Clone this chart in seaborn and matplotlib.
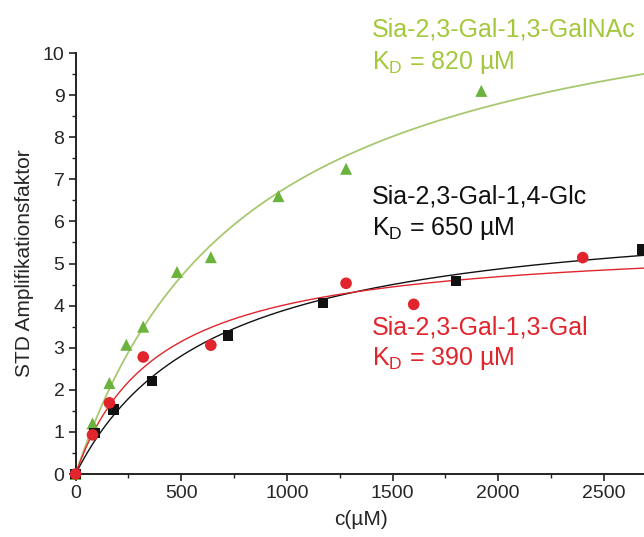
import numpy as np
import pandas as pd
import matplotlib
matplotlib.use("Agg")
import matplotlib.pyplot as plt
from matplotlib.ticker import MultipleLocator
import seaborn as sns

sns.set_theme(style="ticks")
plt.rcParams['font.family'] = ['Liberation Sans', 'DejaVu Sans']

# Measured points (c in uM, STD amplification factor)
glc_c = [0, 90, 180, 360, 720, 1170, 1800, 2680]
glc_y = [0, 0.98, 1.53, 2.21, 3.29, 4.06, 4.59, 5.33]

gal_c = [0, 80, 160, 320, 640, 1280, 1600, 2400]
gal_y = [0, 0.93, 1.69, 2.78, 3.06, 4.53, 4.03, 5.14]

galnac_c = [0, 80, 160, 240, 320, 480, 640, 960, 1280, 1920]
galnac_y = [0, 1.2, 2.16, 3.07, 3.5, 4.8, 5.15, 6.6, 7.25, 9.1]

# Fit parameters (one-site binding): KD from labels, Bmax
kd_glc, bmax_glc = 650, 6.45
kd_gal, bmax_gal = 390, 5.6
kd_galnac, bmax_galnac = 820, 12.4

black = "#111111"
red = "#e0252c"
green_pts = "#6cb33e"
green_line = "#a8c870"
green_txt = "#a4c83c"

fig = plt.figure(figsize=(6.44, 5.37), dpi=100)
ax = fig.add_axes([0.1174, 0.1173, 0.8826, 0.784])

c_fit = np.linspace(0, 2700, 400)
fits = pd.DataFrame({
    "c": c_fit,
    "glc": bmax_glc * c_fit / (kd_glc + c_fit),
    "gal": bmax_gal * c_fit / (kd_gal + c_fit),
    "galnac": bmax_galnac * c_fit / (kd_galnac + c_fit),
})

sns.lineplot(data=fits, x="c", y="galnac", color=green_line, lw=1.3, ax=ax)
sns.lineplot(data=fits, x="c", y="glc", color=black, lw=1.0, ax=ax)
sns.lineplot(data=fits, x="c", y="gal", color=red, lw=1.0, ax=ax)

sns.scatterplot(x=galnac_c, y=galnac_y, marker="^", s=75, color=green_pts,
                edgecolor="none", ax=ax, clip_on=False, zorder=5)
sns.scatterplot(x=glc_c, y=glc_y, marker="s", s=55, color=black,
                edgecolor="none", ax=ax, clip_on=False, zorder=5)
sns.scatterplot(x=gal_c, y=gal_y, marker="o", s=70, color=red,
                edgecolor="none", ax=ax, clip_on=False, zorder=5)

ax.set_xlim(0, 2690)
ax.set_ylim(0, 10)
ax.xaxis.set_major_locator(MultipleLocator(500))
ax.xaxis.set_minor_locator(MultipleLocator(250))
ax.yaxis.set_major_locator(MultipleLocator(1))
ax.yaxis.set_minor_locator(MultipleLocator(0.5))
ax.tick_params(which="major", direction="out", length=5, width=1.2,
               labelsize=14, color="#222222", pad=3)
ax.tick_params(which="minor", direction="out", length=3, width=1.0,
               color="#222222")
sns.despine(ax=ax)
for s in ["left", "bottom"]:
    ax.spines[s].set_linewidth(1.4)
    ax.spines[s].set_color("#222222")

ax.set_xlabel("c(µM)", fontsize=15)
ax.set_ylabel("STD Amplifikationsfaktor", fontsize=15)
ax.xaxis.set_label_coords(0.502, -0.086)
ax.yaxis.set_label_coords(-0.074, 0.5)

fs = 18
fig.text(372 / 644, 1 - 30 / 537, "Sia-2,3-Gal-1,3-GalNAc", color=green_txt,
         fontsize=fs, va="center")
fig.text(372 / 644, 1 - 62 / 537, r"K$_{\mathregular{D}}$ = 820 µM",
         color=green_txt, fontsize=fs, va="center")
fig.text(372 / 644, 1 - 196 / 537, "Sia-2,3-Gal-1,4-Glc", color=black,
         fontsize=fs, va="center")
fig.text(372 / 644, 1 - 228 / 537, r"K$_{\mathregular{D}}$ = 650 µM",
         color=black, fontsize=fs, va="center")
fig.text(372 / 644, 1 - 327 / 537, "Sia-2,3-Gal-1,3-Gal", color=red,
         fontsize=fs, va="center")
fig.text(372 / 644, 1 - 358 / 537, r"K$_{\mathregular{D}}$ = 390 µM",
         color=red, fontsize=fs, va="center")

fig.savefig("out.png", dpi=100)
